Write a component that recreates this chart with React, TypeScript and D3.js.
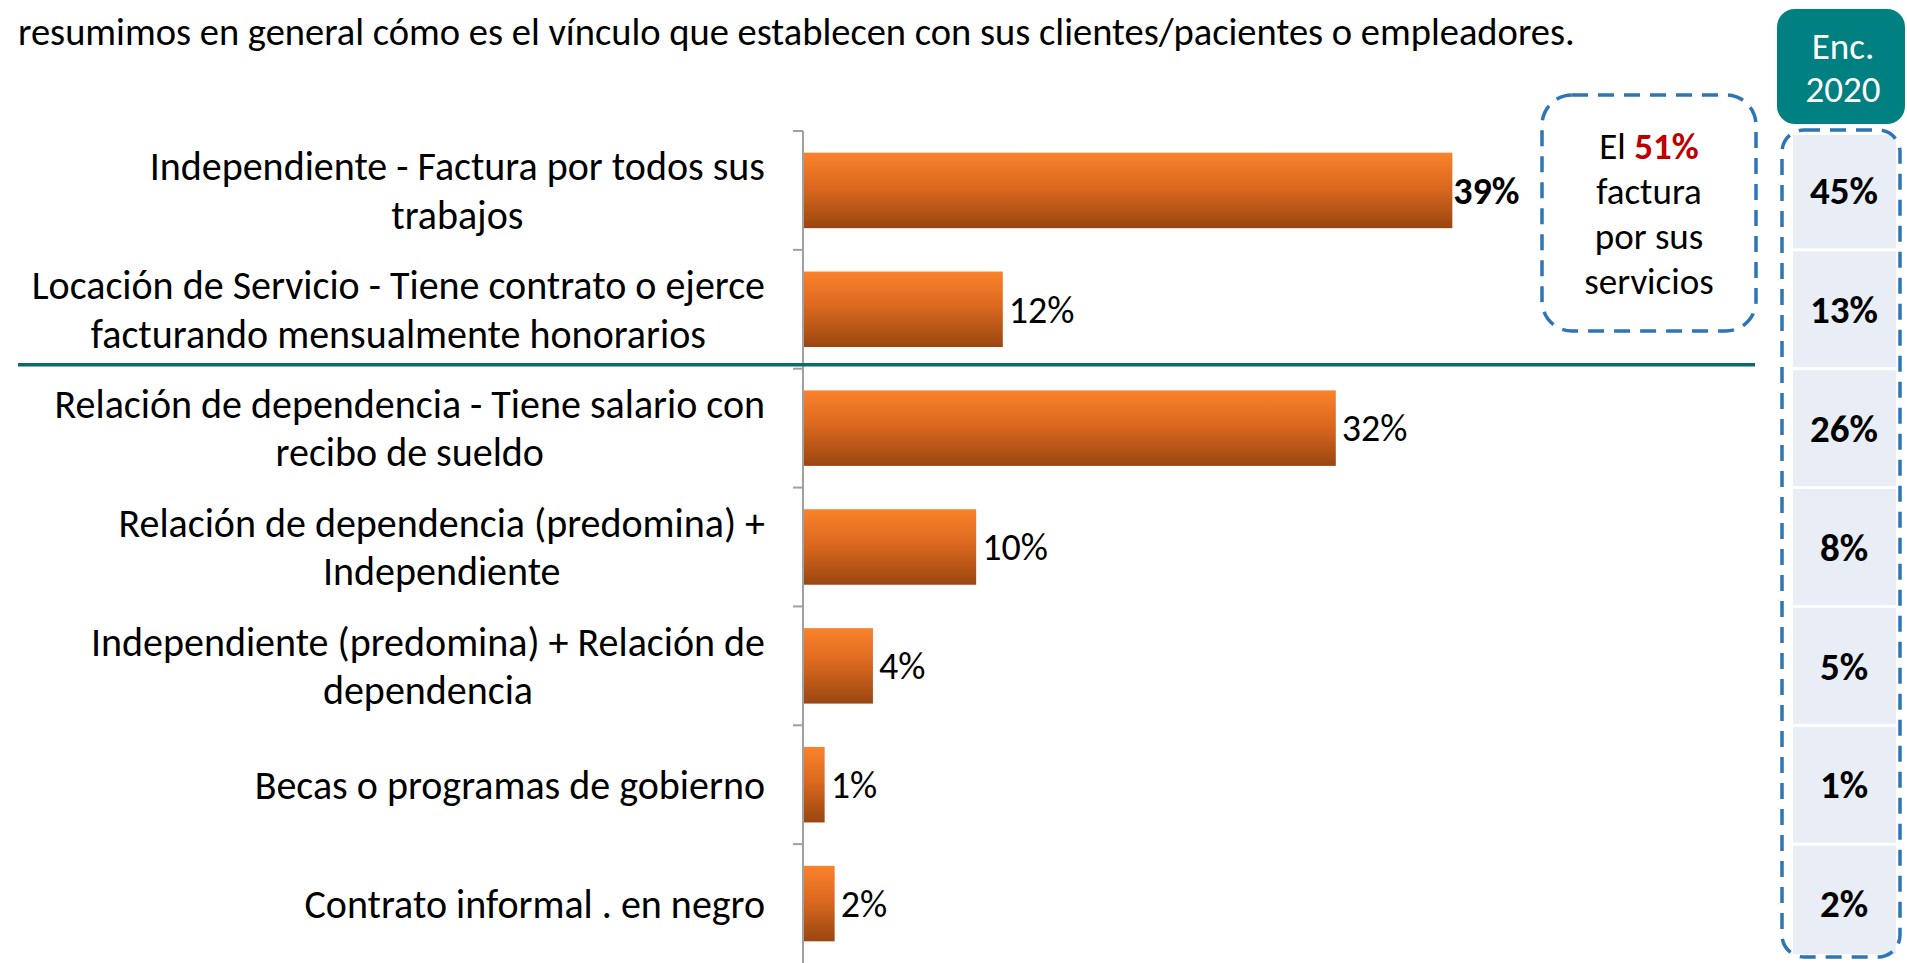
import * as d3 from 'd3';
import React, { useEffect, useRef } from 'react';

const title =
  'resumimos en general cómo es el vínculo que establecen con sus clientes/pacientes o empleadores.';

// each category label, already broken into lines as in the slide
const categories = [
  'Independiente - Factura por todos sus\ntrabajos',
  'Locación de Servicio - Tiene contrato o ejerce\nfacturando mensualmente honorarios',
  'Relación de dependencia - Tiene salario con\nrecibo de sueldo',
  'Relación de dependencia (predomina) +\nIndependiente',
  'Independiente (predomina) + Relación de\ndependencia',
  'Becas o programas de gobierno',
  'Contrato informal . en negro',
];
const values = [39, 12, 32, 10.4, 4.2, 1.3, 1.9];
const boldLabel = [true, false, false, false, false, false, false];
const values2020 = [45, 13, 26, 8, 5, 1, 2];
const calloutLines = ['factura', 'por sus', 'servicios'];
const headerLines = ['Enc.', '2020'];

const FONT = 'Calibri, Carlito, Lato, sans-serif';

export default function App() {
  const svgRef = useRef(null);
  const width = 1907;
  const height = 963;

  useEffect(() => {
    document.body.style.margin = '0';
    document.body.style.overflow = 'hidden';
    const svg = d3.select(svgRef.current);
    svg.selectAll('*').remove();

    const axisX = 803;
    const y = d3
      .scaleBand()
      .domain(categories)
      .range([131, 963])
      .paddingInner(0.365)
      .paddingOuter(0.1825);
    const x = d3.scaleLinear().domain([0, 50]).range([axisX, axisX + 832.5]);
    const step = y.step();

    const defs = svg.append('defs');
    const grad = defs
      .append('linearGradient')
      .attr('id', 'barGrad')
      .attr('x1', 0)
      .attr('y1', 0)
      .attr('x2', 0)
      .attr('y2', 1);
    grad.append('stop').attr('offset', '0%').attr('stop-color', '#fa822b');
    grad.append('stop').attr('offset', '45%').attr('stop-color', '#dc6920');
    grad.append('stop').attr('offset', '100%').attr('stop-color', '#9a4611');

    svg.append('rect').attr('width', width).attr('height', height).attr('fill', '#fff');

    // title
    svg
      .append('text')
      .attr('x', 18)
      .attr('y', 32)
      .attr('dy', '0.35em')
      .style('font-family', FONT)
      .style('font-size', '38.5px')
      .style('fill', '#000')
      .text(title);

    // axis line + ticks
    const g = svg.append('g');
    g.append('line')
      .attr('x1', axisX)
      .attr('x2', axisX)
      .attr('y1', 131)
      .attr('y2', 963)
      .attr('stroke', '#a0a0a0')
      .attr('stroke-width', 2);
    g.selectAll('.tick')
      .data(categories)
      .enter()
      .append('line')
      .attr('x1', axisX - 10)
      .attr('x2', axisX)
      .attr('y1', (d) => y(d) - (step - y.bandwidth()) / 2)
      .attr('y2', (d) => y(d) - (step - y.bandwidth()) / 2)
      .attr('stroke', '#a0a0a0')
      .attr('stroke-width', 2);

    // bars
    g.selectAll('.bar')
      .data(categories)
      .enter()
      .append('rect')
      .attr('x', axisX + 1)
      .attr('y', (d) => y(d))
      .attr('width', (d, i) => x(values[i]) - axisX - 1)
      .attr('height', y.bandwidth())
      .attr('fill', 'url(#barGrad)');

    g.selectAll('.bar-label')
      .data(categories)
      .enter()
      .append('text')
      .attr('x', (d, i) => x(values[i]) + (boldLabel[i] ? 1 : 6))
      .attr('y', (d) => y(d) + y.bandwidth() / 2)
      .attr('dy', '0.35em')
      .style('font-family', FONT)
      .style('font-size', '38px')
      .style('font-weight', (d, i) => (boldLabel[i] ? 'bold' : 'normal'))
      .text((d, i) => `${Math.round(values[i])}%`);

    // category labels, lines centred in a right-aligned block
    const labelRight = 765;
    const lineH = 48.6;
    categories.forEach((cat) => {
      const lines = cat.split('\n');
      const cy = y(cat) + y.bandwidth() / 2;
      const texts = lines.map((line, j) =>
        svg
          .append('text')
          .attr('y', cy + (j - (lines.length - 1) / 2) * lineH)
          .attr('dy', '0.35em')
          .attr('text-anchor', 'middle')
          .style('font-family', FONT)
          .style('font-size', '40px')
          .text(line)
      );
      const maxW = d3.max(texts, (t) => t.node().getComputedTextLength());
      texts.forEach((t) => t.attr('x', labelRight - maxW / 2));
    });

    // teal separator between billing and salaried groups
    const sepY = y(categories[2]) - (step - y.bandwidth()) / 2 - 4;
    svg
      .append('line')
      .attr('x1', 18)
      .attr('x2', 1755)
      .attr('y1', sepY)
      .attr('y2', sepY)
      .attr('stroke', '#0b6b68')
      .attr('stroke-width', 3.5);

    // callout box
    svg
      .append('rect')
      .attr('x', 1542)
      .attr('y', 95)
      .attr('width', 214)
      .attr('height', 236)
      .attr('rx', 30)
      .attr('fill', 'none')
      .attr('stroke', '#2e75b6')
      .attr('stroke-width', 3.5)
      .attr('stroke-dasharray', '16 10');
    const c1 = svg
      .append('text')
      .attr('x', 1649)
      .attr('y', 146)
      .attr('dy', '0.35em')
      .attr('text-anchor', 'middle')
      .style('font-family', FONT)
      .style('font-size', '37px');
    c1.append('tspan').text('El ');
    c1.append('tspan').style('font-weight', 'bold').style('fill', '#c00000').text('51%');
    calloutLines.forEach((line, j) => {
      svg
        .append('text')
        .attr('x', 1649)
        .attr('y', 191 + j * 45)
        .attr('dy', '0.35em')
        .attr('text-anchor', 'middle')
        .style('font-family', FONT)
        .style('font-size', '37px')
        .text(line);
    });

    // 2020 header
    svg
      .append('rect')
      .attr('x', 1777)
      .attr('y', 9)
      .attr('width', 128)
      .attr('height', 115)
      .attr('rx', 18)
      .attr('fill', '#008080');
    headerLines.forEach((line, j) => {
      svg
        .append('text')
        .attr('x', 1843)
        .attr('y', 46 + j * 43)
        .attr('dy', '0.35em')
        .attr('text-anchor', 'middle')
        .style('font-family', FONT)
        .style('font-size', '37px')
        .style('fill', '#fff')
        .text(line);
    });

    // 2020 column cells
    const cellTop = 135;
    const cellBottom = 954;
    svg
      .selectAll('.cell')
      .data(categories)
      .enter()
      .append('rect')
      .attr('x', 1793)
      .attr('width', 103)
      .attr('y', (d, i) => Math.max(cellTop, 131 + i * step + 1.5))
      .attr('height', (d, i) => {
        const top = Math.max(cellTop, 131 + i * step + 1.5);
        const bot = Math.min(cellBottom, 131 + (i + 1) * step - 1.5);
        return bot - top;
      })
      .attr('fill', '#e9edf6');
    svg
      .selectAll('.cell-label')
      .data(categories)
      .enter()
      .append('text')
      .attr('x', 1844)
      .attr('y', (d) => y(d) + y.bandwidth() / 2)
      .attr('dy', '0.35em')
      .attr('text-anchor', 'middle')
      .style('font-family', FONT)
      .style('font-size', '39px')
      .style('font-weight', 'bold')
      .text((d, i) => `${values2020[i]}%`);
    svg
      .append('rect')
      .attr('x', 1782)
      .attr('y', 130)
      .attr('width', 118)
      .attr('height', 827)
      .attr('rx', 22)
      .attr('fill', 'none')
      .attr('stroke', '#2e75b6')
      .attr('stroke-width', 3.5)
      .attr('stroke-dasharray', '16 10');
  }, []);

  return (
    <svg
      ref={svgRef}
      width={width}
      height={height}
      style={{ position: 'absolute', left: 0, top: 0, display: 'block' }}
    />
  );
}
